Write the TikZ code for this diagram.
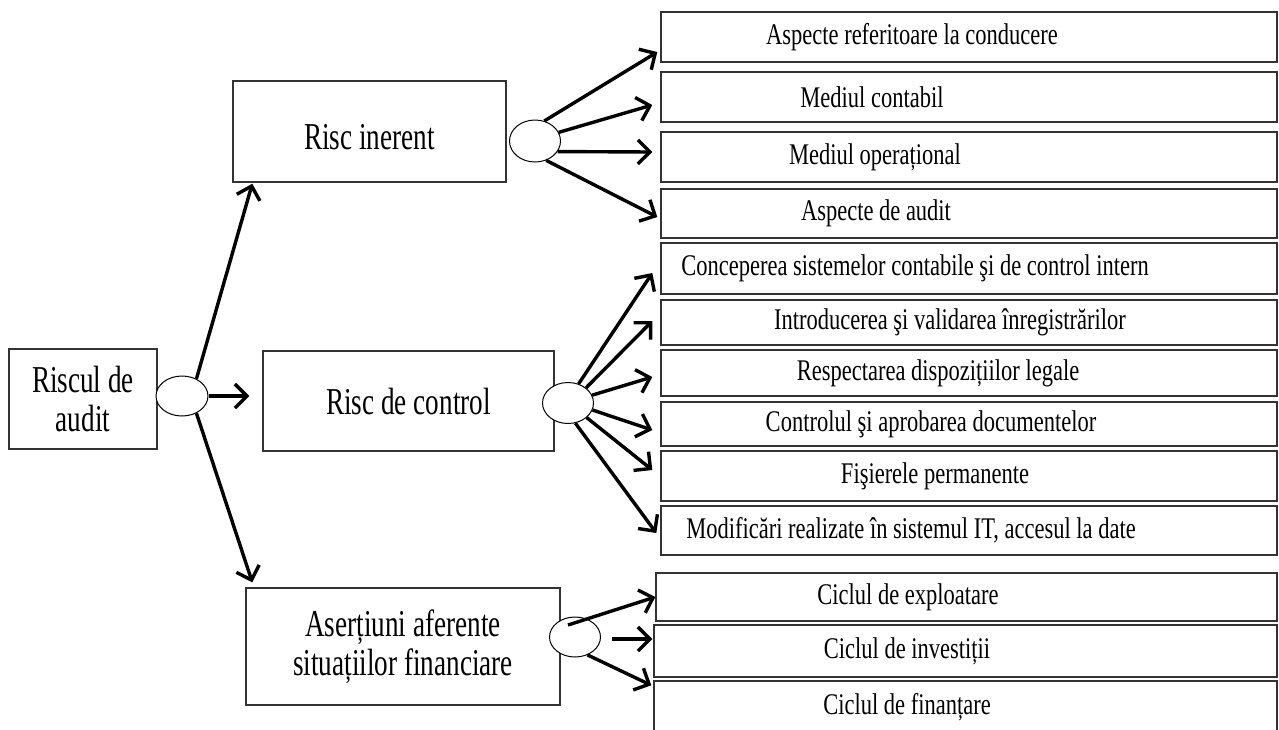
\documentclass[tikz,border=0pt]{standalone}
\usepackage{fontspec}
\setmainfont{Liberation Serif}[FakeStretch=0.75]
\newfontfamily\leftfont{Liberation Serif}[FakeStretch=0.715]
\usetikzlibrary{shapes.geometric,arrows.meta,calc}

\begin{document}
\begin{tikzpicture}[x=1pt,y=1pt]
\tikzset{
  box/.style={draw=black!80, line width=1.4pt, inner sep=0pt, align=center},
  lbox/.style={box, font=\leftfont\fontsize{38}{39}\selectfont},
  ltxt/.style={font=\leftfont\fontsize{38}{39}\selectfont, inner sep=0pt},
  rbox/.style={box, minimum width=616pt},
  rtxt/.style={font=\fontsize{30}{34}\selectfont, inner sep=0pt},
  oval/.style={draw, ellipse, fill=white, line width=1pt, inner sep=0pt, minimum width=51pt, minimum height=41pt},
  arr/.style={-{Straight Barb[length=12pt,width=24pt]}, line width=3.4pt}
}
\useasboundingbox (0,0) rectangle (1279,-729);
% left column
\node[lbox, minimum width=148pt, minimum height=100pt] (audit) at (83,-399) {Riscul de\\audit};
\node[lbox, minimum width=273pt, minimum height=101pt, label={[ltxt,yshift=-6pt]center:Risc inerent}] (inerent) at (369.5,-131.5) {};
\node[lbox, minimum width=291pt, minimum height=100pt] (control) at (408.5,-401) {Risc de control};
\node[lbox, minimum width=314pt, minimum height=117pt] (asert) at (403,-646.5) {Aserțiuni aferente\\situațiilor financiare};
% ovals
\node[oval, minimum width=52pt, minimum height=40pt] (oa) at (182,-396) {};
\node[oval, minimum height=42pt] (oi) at (535,-141) {};
\node[oval] (oc) at (568,-403) {};
\node[oval, minimum height=40pt] (os) at (575,-637) {};
% risc inerent
\node[rbox, minimum height=50pt, label={[rtxt,xshift=-57pt]center:Aspecte referitoare la conducere}] (ri1) at (969,-37) {};
\node[rbox, minimum height=50pt, label={[rtxt,xshift=-97pt]center:Mediul contabil}] (ri2) at (969,-97) {};
\node[rbox, minimum height=50pt, label={[rtxt,xshift=-94pt]center:Mediul operațional}] (ri3) at (969,-157) {};
\node[rbox, minimum height=49pt, label={[rtxt,xshift=-93pt]center:Aspecte de audit}] (ri4) at (969,-213.5) {};
% risc de control
\node[rbox, minimum height=51pt, label={[rtxt,xshift=-54pt]center:Conceperea sistemelor contabile ş{}i de control intern}] (rc1) at (969,-268.5) {};
\node[rbox, minimum height=45pt, label={[rtxt,xshift=-19pt]center:Introducerea şi validarea înregistrărilor}] (rc2) at (969,-322.5) {};
\node[rbox, minimum height=46pt, label={[rtxt,xshift=-31pt]center:Respectarea dispozițiilor legale}] (rc3) at (969,-373) {};
\node[rbox, minimum height=44pt, label={[rtxt,xshift=-38pt]center:Controlul şi aprobarea documentelor}] (rc4) at (969,-424) {};
\node[rbox, minimum height=50pt, label={[rtxt,xshift=-34pt]center:Fişierele permanente}] (rc5) at (969,-476) {};
\node[rbox, minimum height=49pt, label={[rtxt,xshift=-58pt]center:Modificări realizate în sistemul IT, accesul la date}] (rc6) at (969,-530.5) {};
% asertiuni
\node[rbox, minimum width=621pt, minimum height=48pt, label={[rtxt,xshift=-58.5pt]center:Ciclul de exploatare}] (ra1) at (966.5,-597) {};
\node[rbox, minimum width=623pt, minimum height=52pt, label={[rtxt,xshift=-58.5pt]center:Ciclul de investiții}] (ra2) at (965.5,-651) {};
\node[rbox, minimum width=623pt, minimum height=52pt, label={[rtxt,xshift=-58.5pt]center:Ciclul de finanțare}] (ra3) at (965.5,-707) {};
% arrows
\draw[arr] (oa.50) -- ($(inerent.south west)+(20,-1)$);
\draw[arr] (oa.east) -- ($(control.west |- oa.east)+(-13,0)$);
\draw[arr] (oa.-50) -- ($(asert.north west)+(7,5)$);
\draw[arr] (oi.65) -- ($(ri1.west)+(-3,-15)$);
\draw[arr] (oi.20) -- ($(ri2.west)+(-8,-8)$);
\draw[arr] (oi.-25) -- ($(ri3.west)+(-8,5)$);
\draw[arr] (oi.-60) -- ($(ri4.west)+(-3,-3.5)$);
\draw[arr] (oc.61) -- ($(rc1.west)+(-8,-4.5)$);
\draw[arr] (oc.40) -- ($(rc2.west)+(-8,1.5)$);
\draw[arr] (oc.18) -- ($(rc3.west)+(-8,-4)$);
\draw[arr] (oc.-16) -- ($(rc4.west)+(-8,-6)$);
\draw[arr] (oc.-38) -- ($(rc5.west)+(-8,6)$);
\draw[arr] (oc.-70) -- ($(rc6.west)+(-4,-2.5)$);
\draw[arr] ($(os.center)+(-7,12)$) -- (ra1.west);
\draw[arr] ($(os.east)+(11,-2)$) -- ($(ra2.west)+(-1,12)$);
\draw[arr] (os.-55) -- ($(ra3.north west)+(-2,-5)$);
\end{tikzpicture}
\end{document}
